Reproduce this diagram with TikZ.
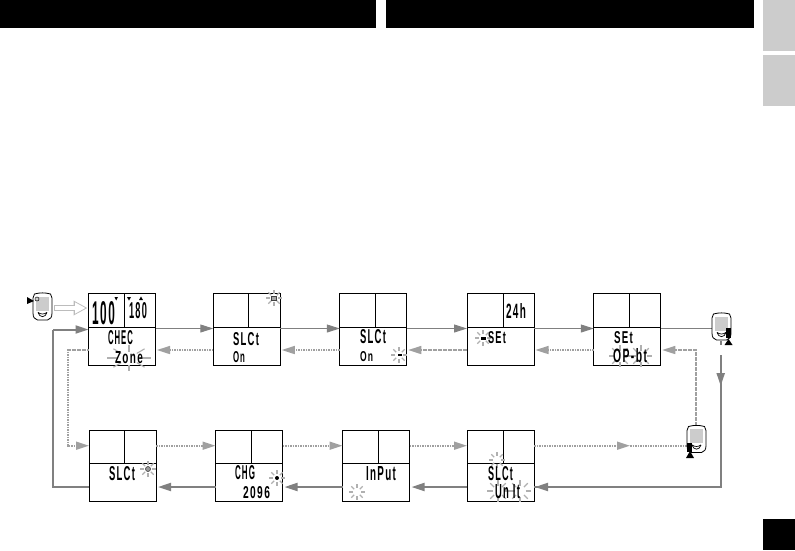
\documentclass[tikz,border=0pt]{standalone}
\usepackage{graphicx}
\usepackage{fontspec}
\setmainfont{Liberation Sans}
\newfontfamily\lcdfont[LetterSpace=14]{Liberation Sans Bold}
\usetikzlibrary{arrows.meta,calc}
\definecolor{tabgrey}{HTML}{CCCCCC}
\definecolor{linegrey}{HTML}{808080}
\definecolor{dotgrey}{HTML}{A0A0A0}
\definecolor{sparkgrey}{HTML}{B0B0B0}
\newcommand{\lcd}[3]{\resizebox{#1pt}{#2pt}{\lcdfont #3}}
\newcommand{\sparkle}[4]{%
  \foreach \a in {0,45,...,315}{%
    \draw[sparkgrey,line width=1.1pt] ({#1+0.5*#3*cos(\a)},{#2+0.5*#4*sin(\a)}) -- ({#1+#3*cos(\a)},{#2+#4*sin(\a)});}}
\newcommand{\devdetail}[2]{%
  \begin{scope}[shift={(#1,#2)}]
    \draw[black,line width=0.8pt,fill=white] (-8,-13) .. controls (-3,-14.5) and (3,-14.5) .. (8,-13) -- (9.5,-9) -- (9.5,6)
      .. controls (9.5,10) and (8,12.5) .. (5,13) -- (-5,13) .. controls (-8,12.5) and (-9.5,10) .. (-9.5,6) -- (-9.5,-9) -- cycle;
    \fill[tabgrey] (-6.5,-10.5) rectangle (6.5,3.5);
    \draw[line width=0.7pt] (-4.5,5.5) .. controls (-3,11) and (3,11) .. (4.5,5.5);
    \draw[line width=0.7pt] (-4.5,5.5) .. controls (-1.5,7.5) and (1.5,7.5) .. (4.5,5.5);
  \end{scope}}
\tikzset{
  panel/.style={draw=black,line width=1pt,minimum width=67pt,minimum height=71.5pt,inner sep=0,outer sep=0},
  divider/.style={black,line width=1pt},
  lcdtext/.style={inner sep=0,outer sep=0,text=black},
  devbox/.style={minimum width=19pt,minimum height=27pt,inner sep=0,outer sep=0},
  thinflow/.style={linegrey,line width=1pt,-{Triangle[length=13pt,width=8pt]}},
  thinline/.style={linegrey,line width=1pt},
  thickflow/.style={linegrey,line width=2pt,-{Triangle[length=13pt,width=8pt]}},
  thickline/.style={linegrey,line width=2pt},
  dotflow/.style={dotgrey,line width=1.6pt,dash pattern=on 1.6pt off 0.9pt,-{Triangle[length=13pt,width=8pt,sep=0pt]}},
  dotline/.style={dotgrey,line width=1.6pt,dash pattern=on 1.6pt off 0.9pt},
}
\begin{document}
\begin{tikzpicture}[x=1pt,y=-1pt]
\useasboundingbox (0,0) rectangle (795,550);
% page furniture
\fill[black] (0,0) rectangle (376,28);
\fill[black] (386,0) rectangle (754,28);
\fill[tabgrey] (763,0) rectangle (795,51);
\fill[tabgrey] (763,55) rectangle (795,106);
\fill[black] (763,519) rectangle (795,550);
% panels
\foreach \n/\x/\y in {b1/122/329.5,b2/246.75/329.5,b3/373.25/329.5,b4/500.5/329.5,b5/627.25/329.5,
                      b6/122.5/466,b7/249/466,b8/376/466,b9/500.5/466}
  \node[panel] (\n) at (\x,\y) {};
\foreach \n/\v in {b1/124,b2/248,b3/375.7,b4/503,b5/629}{
  \draw[divider] (\n.west |- 0,327) -- (\n.east |- 0,327);
  \draw[divider] (\v,294) -- (\v,327);}
\foreach \n/\v in {b6/124,b7/251,b8/378,b9/503}{
  \draw[divider] (\n.west |- 0,463) -- (\n.east |- 0,463);
  \draw[divider] (\v,430) -- (\v,463);}
% connectors ending at devices are drawn before the devices
\node[devbox] (d1) at (42.5,307) {};
\node[devbox] (d2) at (721.5,327) {};
\node[devbox] (d3) at (696.5,439.5) {};
% hollow arrow
\draw[dotgrey!70,line width=6.5pt,-{Triangle[length=14pt,width=14pt]},shorten <=2pt,shorten >=1pt] (d1.east |- 0,308) -- (b1.west |- 0,308);
\draw[white,line width=4pt,-{Triangle[length=10.5pt,width=10.5pt]},shorten <=2.8pt,shorten >=3pt] (d1.east |- 0,308) -- (b1.west |- 0,308);
% solid top row
\foreach \p/\q in {b1/b2,b2/b3,b3/b4,b4/b5}
  \draw[thinflow] (\p.east |- 0,328.5) -- (\q.west |- 0,328.5);
\draw[thinline] (b5.east |- 0,328.5) -- (d2.west |- 0,328.5);
\coordinate (corner2) at (720.7,487);
\coordinate (corner1) at (53,487);
\coordinate (corner3) at (53,329.5);
\draw[thinline,line width=1.6pt] (720.7,341) -- (720.7,345);
\draw[thickline] (720.7,355) -- (corner2) -- (b9.east |- corner2);
\draw[thickflow] (720.7,360) -- (720.7,386);
\draw[thickflow,shorten >=2pt] (b9.east |- corner2) -- ++(-1,0);
\foreach \p/\q in {b9/b8,b8/b7,b7/b6}
  \draw[thickflow,shorten >=2pt] (\p.west |- corner2) -- (\q.east |- corner2);
\draw[thickline] (b6.west |- corner1) -- (corner1) -- (corner3);
\draw[thickflow] (corner3) -- (b1.west |- corner3);
% dotted returns
\foreach \p/\q in {b2/b1,b3/b2,b4/b3,b5/b4}
  \draw[dotflow,shorten >=1.5pt] (\p.west |- 0,350) -- (\q.east |- 0,350);
\coordinate (dc1) at (696,350);
\draw[dotflow,shorten >=1.5pt] (d3.north -| dc1) -- (dc1) -- (b5.east |- dc1);
\coordinate (dc2) at (67.7,350);
\coordinate (dc3) at (67.7,445.7);
\draw[dotflow] (b1.west |- dc2) -- (dc2) -- (dc3) -- (b6.west |- dc3);
\foreach \p/\q in {b6/b7,b7/b8,b8/b9}
  \draw[dotflow] (\p.east |- dc3) -- (\q.west |- dc3);
\coordinate (dmid) at (630,445.7);
\draw[dotflow] (b9.east |- dc3) -- (dmid);
\draw[dotline] (dmid) -- (d3.west |- dc3);
% devices
\devdetail{42.5}{307}
\fill[black] (34,301) -- (27,297) -- (27,304) -- cycle;
\draw[line width=0.5pt] (37,299) circle (2pt);
\devdetail{721.5}{327}
\fill[black] (726,328) rectangle (731,338);
\fill[black] (728.5,339) -- (724.5,345) -- (732.5,345) -- cycle;
\devdetail{696.5}{439.5}
\fill[black] (687,443) rectangle (692,452);
\fill[black] (690,451) -- (686,458) -- (694,458) -- cycle;
% sparkles and small icons
\sparkle{129}{358}{22}{13}
\sparkle{274}{298}{8}{8}
\draw[black!75,fill=black!35,line width=0.8pt] (271.5,296) rectangle (276.5,300);
\sparkle{399}{355}{8}{8}
\fill[black] (398,354) rectangle (402,356);
\sparkle{483}{338}{8}{8}
\fill[black] (481,336.5) rectangle (486,339.5);
\sparkle{620}{356}{11}{11}
\sparkle{641}{356}{11}{11}
\sparkle{148}{469}{8}{8}
\draw[black!70,fill=black!40,line width=0.7pt] (148,469) circle (2.5pt);
\sparkle{277}{478}{8}{8}
\fill[black] (277,478) circle (2pt);
\sparkle{357}{492}{8}{8}
\sparkle{497}{460}{8}{8}
\sparkle{498}{491}{11}{11}
\sparkle{520}{491}{11}{11}
% display texts
\fill[black] (114.5,297) -- (118,297) -- (116.2,300.5) -- cycle;
\fill[black] (127,297) -- (131,297) -- (129,300.5) -- cycle;
\fill[black] (139,300) -- (143,300) -- (141,296.5) -- cycle;
\foreach \n/\x/\y/\w/\h/\s in {
  t1/103.5/313.5/23/23/100, t2/138/311/18/16/180, t3/120.5/337.5/25/14/CHEC, t4/129/358/28/12/Zone,
  t5/246/339/26/13/SLCt, t6/239/357.5/12/11/On,
  t7/373/337/26/14/SLCt, t8/366.5/357/13/10/On,
  t9/516/310.5/20/15/24h, t10/497/338/18/12/SEt,
  t11/623.5/338/19/12/SEt, t12/630/355.5/34/14/OP-bt,
  t13/122/474/26/14/SLCt, t14/245/473/20/14/CHG, t15/256.5/493/27/12/2096,
  t16/381/474/30/14/InPut, t17/500.5/474/25/14/SLCt, t18/507.5/491.5/25/14/Un It}
  \node[lcdtext] (\n) at (\x,\y) {\lcd{\w}{\h}{\s}};
\end{tikzpicture}
\end{document}
